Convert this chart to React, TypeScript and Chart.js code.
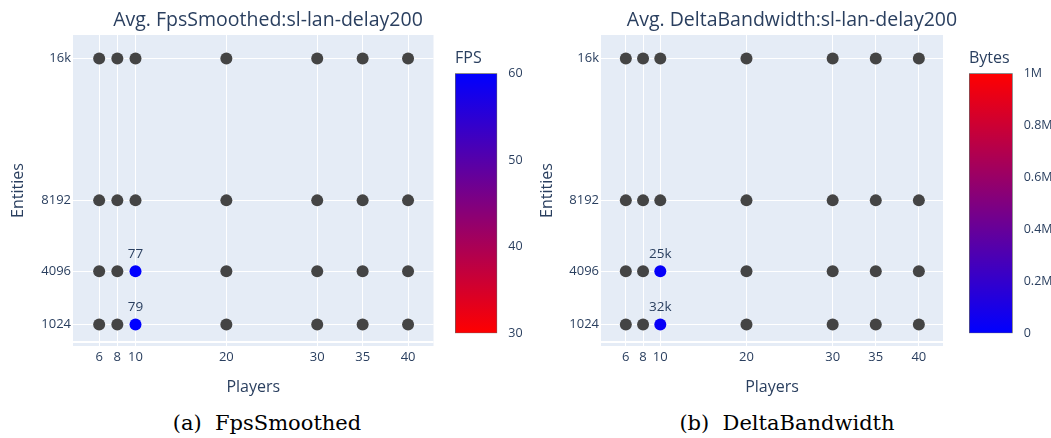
import React, { useEffect, useRef } from 'react';
import { Chart, registerables } from 'chart.js';

Chart.register(...registerables);
Chart.defaults.font.family = "'Open Sans', sans-serif";

// ---------- data ----------
const players = [6, 8, 10, 20, 30, 35, 40];
const playerTickLabels = ['6', '8', '10', '20', '30', '35', '40'];
const entities = [1024, 4096, 8192, 16384];
const entityTickLabels = ['1024', '4096', '8192', '16k'];

// Avg. FpsSmoothed per players column, one array per entity row (null = no value, grey)
const fps1024 = [null, null, 79, null, null, null, null];
const fps4096 = [null, null, 77, null, null, null, null];
const fps8192 = [null, null, null, null, null, null, null];
const fps16k = [null, null, null, null, null, null, null];

// Avg. DeltaBandwidth (bytes)
const bw1024 = [null, null, 32000, null, null, null, null];
const bw4096 = [null, null, 25000, null, null, null, null];
const bw8192 = [null, null, null, null, null, null, null];
const bw16k = [null, null, null, null, null, null, null];

const fpsBarTicks = [30, 40, 50, 60];
const fpsBarTickLabels = ['30', '40', '50', '60'];
const bwBarTicks = [0, 200000, 400000, 600000, 800000, 1000000];
const bwBarTickLabels = ['0', '0.2M', '0.4M', '0.6M', '0.8M', '1M'];

// ---------- styles ----------
const TEXT = '#2a3f5f';
const BG = '#e5ecf6';
const MISSING = '#444444';
const RED = [255, 0, 0];
const BLUE = [0, 0, 255];
const X_MIN = 3.12;
const X_MAX = 42.8;
const Y_MIN = -217;
const Y_MAX = 17741;

const clamp = (t: number) => Math.max(0, Math.min(1, t));
const lerpColor = (a: number[], b: number[], t: number) =>
  `rgb(${a.map((c, i) => Math.round(c + (b[i] - c) * t)).join(',')})`;
const fpsColor = (v: number) => lerpColor(RED, BLUE, clamp((v - 30) / 30));
const bwColor = (v: number) => lerpColor(BLUE, RED, clamp(v / 1000000));
const fpsLabel = (v: number) => String(v);
const bwLabel = (v: number) => `${Math.round(v / 1000)}k`;

const bgPlugin = {
  id: 'plotBg',
  beforeDraw(chart: any) {
    const { ctx, chartArea: a } = chart;
    ctx.save();
    ctx.fillStyle = BG;
    ctx.fillRect(a.left, a.top, a.right - a.left, a.bottom - a.top);
    ctx.restore();
  },
};

const valueLabelPlugin = {
  id: 'valueLabels',
  afterDatasetsDraw(chart: any) {
    const ds = chart.data.datasets[0];
    const meta = chart.getDatasetMeta(0);
    const ctx = chart.ctx;
    ctx.save();
    ctx.font = "13.5px 'Open Sans', sans-serif";
    ctx.fillStyle = TEXT;
    ctx.textAlign = 'center';
    ctx.textBaseline = 'middle';
    meta.data.forEach((el: any, i: number) => {
      const p = ds.data[i];
      if (p.v == null) return;
      ctx.fillText(p.label, el.x, el.y - 17);
    });
    ctx.restore();
  },
};

interface ScatterProps {
  title: string;
  rows: (number | null)[][];
  colorFn: (v: number) => string;
  labelFn: (v: number) => string;
  yAxisWidth: number;
  padRight: number;
  yTitlePad: number;
}

function scatterConfig(p: ScatterProps): any {
  const points: any[] = [];
  p.rows.forEach((row, r) =>
    row.forEach((v, c) =>
      points.push({ x: players[c], y: entities[r], v, label: v == null ? '' : p.labelFn(v) })
    )
  );
  return {
    type: 'scatter',
    data: {
      datasets: [
        {
          data: points,
          pointRadius: 6,
          pointHoverRadius: 6,
          pointBorderWidth: 0,
          pointBackgroundColor: points.map((pt) => (pt.v == null ? MISSING : p.colorFn(pt.v))),
          borderColor: 'rgba(0,0,0,0)',
        },
      ],
    },
    options: {
      responsive: false,
      animation: false,
      events: [],
      layout: { padding: 0 },
      plugins: {
        legend: { display: false },
        tooltip: { enabled: false },
        title: {
          display: true,
          text: p.title,
          color: TEXT,
          font: { size: 19.5, weight: 'normal' },
          padding: { top: 8.8, bottom: 2.8 },
        },
      },
      scales: {
        x: {
          type: 'linear',
          position: 'bottom',
          min: X_MIN,
          max: X_MAX,
          afterBuildTicks: (s: any) => {
            s.ticks = players.map((v) => ({ value: v }));
          },
          afterFit: (s: any) => {
            s.height = 54;
          },
          ticks: {
            color: TEXT,
            font: { size: 13 },
            padding: 3,
            autoSkip: false,
            maxRotation: 0,
            callback: (v: number) => playerTickLabels[players.indexOf(v)] ?? '',
          },
          grid: { color: '#ffffff', lineWidth: 1, drawTicks: false },
          border: { display: false },
          title: {
            display: true,
            text: 'Players',
            color: TEXT,
            font: { size: 16 },
            padding: { top: 0, bottom: 3.4 },
          },
        },
        y: {
          type: 'linear',
          position: 'left',
          min: Y_MIN,
          max: Y_MAX,
          afterBuildTicks: (s: any) => {
            s.ticks = [0, ...entities].map((v) => ({ value: v }));
          },
          afterFit: (s: any) => {
            s.width = p.yAxisWidth;
          },
          ticks: {
            color: TEXT,
            font: { size: 13 },
            padding: 2,
            autoSkip: false,
            callback: (v: number) => entityTickLabels[entities.indexOf(v)] ?? '',
          },
          grid: {
            color: '#ffffff',
            lineWidth: (c: any) => (c.tick && c.tick.value === 0 ? 2 : 1),
            drawTicks: false,
          },
          border: { display: false },
          title: {
            display: true,
            text: 'Entities',
            color: TEXT,
            font: { size: 16 },
            padding: { top: p.yTitlePad, bottom: 0 },
          },
        },
        pad: {
          type: 'linear',
          position: 'right',
          display: true,
          ticks: { display: false },
          grid: { display: false },
          border: { display: false },
          afterFit: (s: any) => {
            s.width = p.padRight;
          },
        },
      },
    },
    plugins: [bgPlugin, valueLabelPlugin],
  };
}

interface BarProps {
  title: string;
  min: number;
  max: number;
  ticks: number[];
  tickLabels: string[];
  bottomColor: number[];
  topColor: number[];
  padLeft: number;
  axisWidth: number;
}

function colorbarConfig(p: BarProps): any {
  return {
    type: 'bar',
    data: {
      labels: [p.title],
      datasets: [
        {
          data: [[p.min, p.max]],
          backgroundColor: (ctx: any) => {
            const ch = ctx.chart;
            const a = ch.chartArea;
            if (!a) return lerpColor(p.bottomColor, p.topColor, 0.5);
            const g = ch.ctx.createLinearGradient(0, a.bottom, 0, a.top);
            g.addColorStop(0, lerpColor(p.bottomColor, p.topColor, 0));
            g.addColorStop(0.5, lerpColor(p.bottomColor, p.topColor, 0.5));
            g.addColorStop(1, lerpColor(p.bottomColor, p.topColor, 1));
            return g;
          },
          borderColor: '#666666',
          borderWidth: 1,
          borderSkipped: false,
          categoryPercentage: 1,
          barPercentage: 1,
        },
      ],
    },
    options: {
      responsive: false,
      animation: false,
      events: [],
      layout: { padding: { left: p.padLeft, right: 0, top: 0, bottom: 16.7 } },
      plugins: {
        legend: { display: false },
        tooltip: { enabled: false },
        title: {
          display: true,
          text: p.title,
          align: 'start',
          color: TEXT,
          font: { size: 16, weight: 'normal' },
          padding: { top: 8.4, bottom: 5.7 },
        },
      },
      scales: {
        x: { display: false },
        y: {
          position: 'right',
          min: p.min,
          max: p.max,
          afterBuildTicks: (s: any) => {
            s.ticks = p.ticks.map((v) => ({ value: v }));
          },
          afterFit: (s: any) => {
            s.width = p.axisWidth;
          },
          ticks: {
            color: TEXT,
            font: { size: 12.5 },
            padding: 3,
            autoSkip: false,
            callback: (v: number) => p.tickLabels[p.ticks.indexOf(v)] ?? '',
          },
          grid: { display: false },
          border: { display: false },
        },
      },
    },
  };
}

function ChartCanvas({ config, left, top, width, height }: any) {
  const ref = useRef<HTMLCanvasElement>(null);
  useEffect(() => {
    if (!ref.current) return;
    const chart = new Chart(ref.current, config);
    return () => chart.destroy();
  }, [config]);
  return (
    <canvas
      ref={ref}
      width={width}
      height={height}
      style={{ position: 'absolute', left, top, width, height }}
    />
  );
}

const leftScatter = scatterConfig({
  title: 'Avg. FpsSmoothed:sl-lan-delay200',
  rows: [fps1024, fps4096, fps8192, fps16k],
  colorFn: fpsColor,
  labelFn: fpsLabel,
  yAxisWidth: 73,
  padRight: 102.5,
  yTitlePad: 8.8,
});
const rightScatter = scatterConfig({
  title: 'Avg. DeltaBandwidth:sl-lan-delay200',
  rows: [bw1024, bw4096, bw8192, bw16k],
  colorFn: bwColor,
  labelFn: bwLabel,
  yAxisWidth: 67,
  padRight: 107,
  yTitlePad: 4,
});
const leftBar = colorbarConfig({
  title: 'FPS',
  min: 30,
  max: 60,
  ticks: fpsBarTicks,
  tickLabels: fpsBarTickLabels,
  bottomColor: RED,
  topColor: BLUE,
  padLeft: 15,
  axisWidth: 42.7,
});
const rightBar = colorbarConfig({
  title: 'Bytes',
  min: 0,
  max: 1000000,
  ticks: bwBarTicks,
  tickLabels: bwBarTickLabels,
  bottomColor: BLUE,
  topColor: RED,
  padLeft: 14,
  axisWidth: 38.3,
});

const captionStyle: React.CSSProperties = {
  position: 'absolute',
  top: 411,
  width: 300,
  textAlign: 'center',
  fontFamily: "'DejaVu Serif', serif",
  fontSize: 21,
  lineHeight: '24px',
  color: '#000',
  whiteSpace: 'pre',
};

export default function App() {
  return (
    <div
      style={{
        position: 'absolute',
        left: 0,
        top: 0,
        width: 1051,
        height: 438,
        background: '#ffffff',
        overflow: 'hidden',
      }}
    >
      <ChartCanvas config={leftScatter} left={0} top={0} width={536} height={400} />
      <ChartCanvas config={leftBar} left={440} top={40} width={100} height={310} />
      <ChartCanvas config={rightScatter} left={534} top={0} width={516} height={400} />
      <ChartCanvas config={rightBar} left={955} top={40} width={96} height={310} />
      <div style={{ ...captionStyle, left: 267 - 150 }}>(a)  FpsSmoothed</div>
      <div style={{ ...captionStyle, left: 787 - 150 }}>(b)  DeltaBandwidth</div>
    </div>
  );
}
